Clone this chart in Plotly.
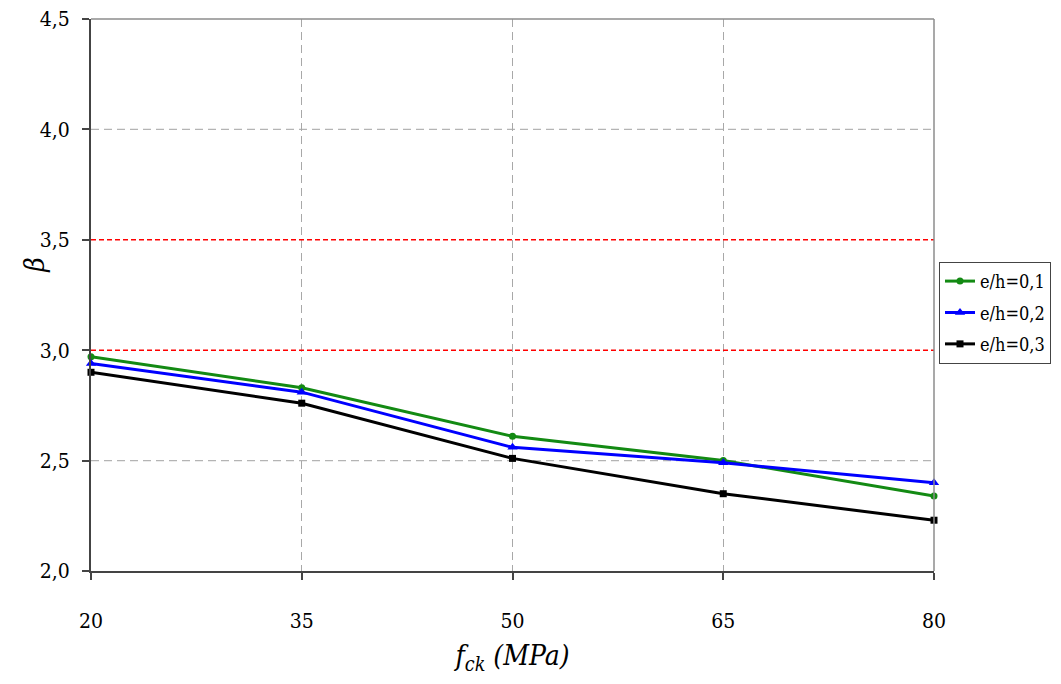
import plotly.graph_objects as go

fck = [20, 35, 50, 65, 80]
beta_01 = [2.97, 2.83, 2.61, 2.50, 2.34]
beta_02 = [2.94, 2.81, 2.56, 2.49, 2.40]
beta_03 = [2.90, 2.76, 2.51, 2.35, 2.23]
series_names = ["e/h=0,1", "e/h=0,2", "e/h=0,3"]
y_ticks = [2.0, 2.5, 3.0, 3.5, 4.0, 4.5]
limits = [3.0, 3.5]

SERIF = "DejaVu Serif Condensed, DejaVu Serif"
colors = ["#138a13", "#0000ff", "#000000"]
symbols = ["circle", "triangle-up", "square"]
sizes = [7, 9, 7]

fig = go.Figure()
for name, vals, c, s, sz in zip(series_names, [beta_01, beta_02, beta_03], colors, symbols, sizes):
    fig.add_trace(go.Scatter(
        x=fck, y=vals, name=name, mode="lines+markers", legendgroup=name,
        line=dict(color=c, width=3),
        marker=dict(symbol=s, size=sz, color=c),
        cliponaxis=False,
    ))

shapes = []
for v in y_ticks[1:-1]:
    if v not in limits:
        shapes.append(dict(type="line", xref="paper", yref="y", x0=0, x1=1, y0=v, y1=v,
                           line=dict(color="#b4b4b4", width=1.2, dash="8px,5px"), layer="below"))
for v in limits:
    shapes.append(dict(type="line", xref="paper", yref="y", x0=0, x1=1, y0=v, y1=v,
                       line=dict(color="#ff0000", width=1.5, dash="5px,3px"), layer="above"))
shapes.append(dict(type="line", xref="paper", yref="paper", x0=0, x1=1, y0=1, y1=1,
                   line=dict(color="#8c8c8c", width=1.5)))
shapes.append(dict(type="line", xref="paper", yref="paper", x0=1, x1=1, y0=0, y1=1,
                   line=dict(color="#8c8c8c", width=1.5)))

fig.add_annotation(text="<i>β</i>", xref="paper", yref="paper", x=-0.067, y=0.554,
                   xanchor="center", yanchor="middle", textangle=-90, showarrow=False,
                   font=dict(family=SERIF, size=28, color="#000000"))

fig.update_layout(
    width=1045, height=668,
    margin=dict(l=83, r=119, t=11, b=105, autoexpand=False),
    paper_bgcolor="white", plot_bgcolor="white",
    separators=", ",
    font=dict(family=SERIF, size=21, color="#000000"),
    shapes=shapes,
    showlegend=True,
    legend=dict(
        x=1.1388, y=0.56, xanchor="right", yanchor="top",
        bordercolor="#444444", borderwidth=1, bgcolor="white",
        font=dict(family=SERIF, size=18, color="#000000"),
        itemwidth=30, tracegroupgap=5,
    ),
    xaxis=dict(
        range=[20, 80], tickvals=fck, ticktext=[str(v) for v in fck],
        tickfont=dict(family=SERIF, size=21),
        ticklabelstandoff=23, ticklabeloverflow="allow",
        showgrid=True, gridcolor="#a8a8a8", griddash="8px,5px", gridwidth=1.2,
        showline=True, linecolor="#444444", linewidth=2,
        ticks="outside", ticklen=7, tickcolor="#444444", tickwidth=1.5,
        zeroline=False,
        title=dict(text="<i>f<sub>ck</sub> (MPa)</i>", font=dict(family=SERIF, size=28), standoff=13),
    ),
    yaxis=dict(
        range=[2.0, 4.5], tickvals=y_ticks, tickformat=".1f",
        tickfont=dict(family=SERIF, size=21),
        ticklabelstandoff=8, ticklabeloverflow="allow",
        showgrid=False,
        showline=True, linecolor="#444444", linewidth=2,
        ticks="outside", ticklen=7, tickcolor="#444444", tickwidth=1.5,
        zeroline=False,
    ),
)

fig.write_html("out.html")
